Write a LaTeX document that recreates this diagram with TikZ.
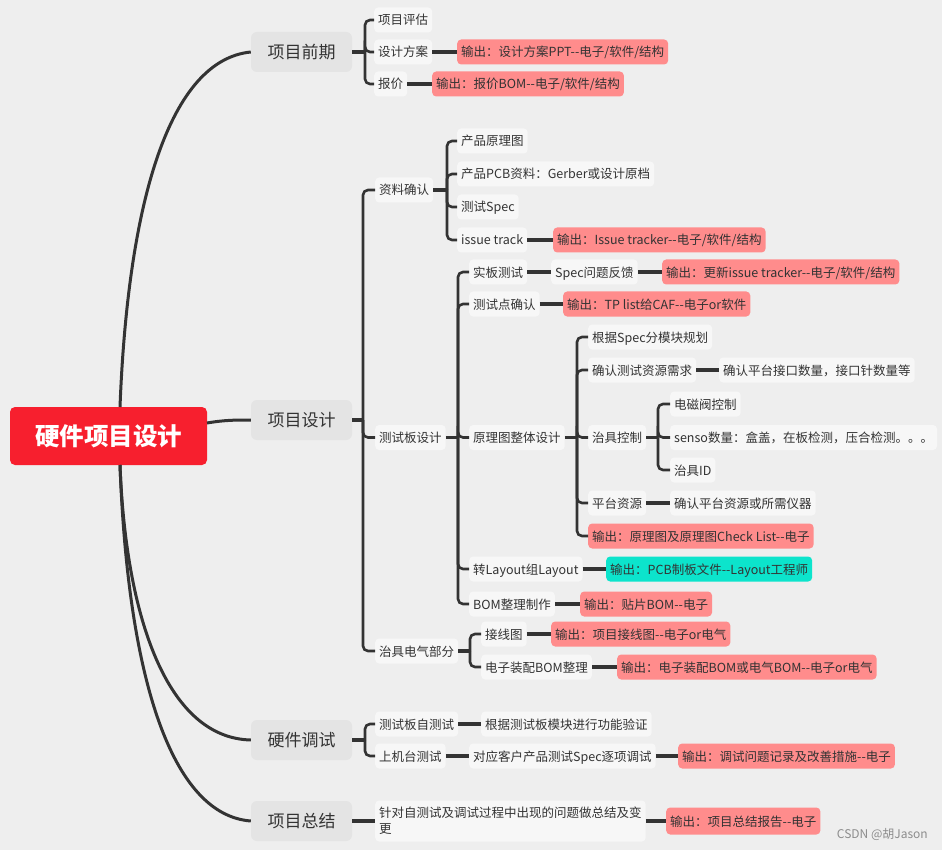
\documentclass[tikz,border=0pt]{standalone}
\usepackage{fontspec}
\setmainfont{Noto Sans CJK SC}
\usetikzlibrary{calc}
\newcommand\dd{-\kern0pt-}
\definecolor{bgc}{HTML}{EEEEEE}
\definecolor{rootred}{HTML}{F71F2E}
\definecolor{lonegray}{HTML}{E4E4E4}
\definecolor{subw}{HTML}{F7F7F7}
\definecolor{outred}{HTML}{FF8C8C}
\definecolor{outteal}{HTML}{0CE4CC}
\definecolor{lnc}{HTML}{333333}
\definecolor{txt}{HTML}{333333}
\begin{document}
\begin{tikzpicture}[x=1pt,y=-1pt,
  rootbox/.style={fill=rootred,text=white,rounded corners=5pt,minimum width=197pt,minimum height=58pt,inner sep=0pt,font=\fontsize{24.5}{28}\selectfont\bfseries},
  lone/.style={fill=lonegray,text=txt,rounded corners=6pt,minimum width=101pt,minimum height=40pt,inner sep=0pt,font=\fontsize{17}{20}\selectfont},
  sub/.style={fill=subw,text=txt,rounded corners=4pt,anchor=west,minimum height=25pt,inner xsep=4pt,inner ysep=0pt,text height=11.5pt,text depth=1.5pt,font=\fontsize{12.5}{15}\selectfont},
  outr/.style={sub,fill=outred},
  outt/.style={sub,fill=outteal},
  curve/.style={draw=lnc,line width=3pt},
  br/.style={draw=lnc,line width=2.6pt,rounded corners=5pt},
  ln/.style={draw=lnc,line width=3.2pt}
]
\fill[bgc] (0,0) rectangle (942,850);
\useasboundingbox (0,0) rectangle (942,850);

% root and level 1
\node[rootbox] (root) at (108.5,436) {硬件项目设计};
\node[lone] (A) at (301.5,52) {项目前期};
\node[lone] (B) at (301.5,420) {项目设计};
\node[lone] (C) at (301.5,740) {硬件调试};
\node[lone] (D) at (301.5,821) {项目总结};

\coordinate (rt) at (120,407);
\coordinate (rb) at (120,465);
\coordinate (rr) at (207,423);
\draw[curve] (rt) .. controls (128,200) and (170,60) .. (A.west);
\draw[curve] (rr) .. controls (225,420) and (235,420) .. (B.west);
\draw[curve] (rb) .. controls (126,620) and (168,738) .. (C.west);
\draw[curve] (rb) .. controls (128,680) and (172,815) .. (D.west);

% 项目前期
\node[sub] (A1) at (374,20) {项目评估};
\node[sub] (A2) at (374,52) {设计方案};
\node[sub] (A3) at (374,84) {报价};
\node[outr] (A2o) at (457,52) {输出：设计方案PPT\dd 电子/软件/结构};
\node[outr] (A3o) at (432,84) {输出：报价BOM\dd 电子/软件/结构};
\coordinate (kA) at (365,0);
\draw[ln] (A.east) -- (A.east -| kA);
\foreach \c in {A1,A2,A3} \draw[br] (A.east -| kA) |- (\c.west);
\draw[ln] (A2.east) -- (A2o.west);
\draw[ln] (A3.east) -- (A3o.west);

% 项目设计
\node[sub] (B1) at (375,190) {资料确认};
\node[sub] (B2) at (375,437.5) {测试板设计};
\node[sub] (B3) at (375,651) {治具电气部分};
\coordinate (kB) at (363,0);
\draw[ln] (B.east) -- (B.east -| kB);
\foreach \c in {B1,B2,B3} \draw[br] (B.east -| kB) |- (\c.west);

% 资料确认
\node[sub] (B11) at (457,141) {产品原理图};
\node[sub] (B12) at (457,174) {产品PCB资料：Gerber或设计原档};
\node[sub] (B13) at (457,207) {测试Spec};
\node[sub] (B14) at (457,240) {issue track};
\node[outr] (B14o) at (553,240) {输出：Issue tracker\dd 电子/软件/结构};
\coordinate (kB1) at (447,0);
\draw[ln] (B1.east) -- (B1.east -| kB1);
\foreach \c in {B11,B12,B13,B14} \draw[br] (B1.east -| kB1) |- (\c.west);
\draw[ln] (B14.east) -- (B14o.west);

% 测试板设计
\node[sub] (B21) at (469,272) {实板测试};
\node[sub] (B21a) at (551,272) {Spec问题反馈};
\node[outr] (B21o) at (662,272) {输出：更新issue tracker\dd 电子/软件/结构};
\node[sub] (B22) at (469,304) {测试点确认};
\node[outr] (B22o) at (563,304) {输出：TP list给CAF\dd 电子or软件};
\node[sub] (B23) at (469,437.5) {原理图整体设计};
\node[sub] (B24) at (469,569) {转Layout组Layout};
\node[outt] (B24o) at (606,569) {输出：PCB制板文件\dd Layout工程师};
\node[sub] (B25) at (469,604) {BOM整理制作};
\node[outr] (B25o) at (580,604) {输出：贴片BOM\dd 电子};
\coordinate (kB2) at (458,0);
\draw[ln] (B2.east) -- (B2.east -| kB2);
\foreach \c in {B21,B22,B23,B24,B25} \draw[br] (B2.east -| kB2) |- (\c.west);
\draw[ln] (B21.east) -- (B21a.west);
\draw[ln] (B21a.east) -- (B21o.west);
\draw[ln] (B22.east) -- (B22o.west);
\draw[ln] (B24.east) -- (B24o.west);
\draw[ln] (B25.east) -- (B25o.west);

% 原理图整体设计
\node[sub] (B231) at (588,337) {根据Spec分模块规划};
\node[sub] (B232) at (588,370) {确认测试资源需求};
\node[sub] (B232a) at (719,370) {确认平台接口数量，接口针数量等};
\node[sub] (B233) at (588,437.5) {治具控制};
\node[sub] (B233a) at (670,404) {电磁阀控制};
\node[sub] (B233b) at (670,437.5) {senso数量：盒盖，在板检测，压合检测。。。};
\node[sub] (B233c) at (670,470) {治具ID};
\node[sub] (B234) at (588,503) {平台资源};
\node[sub] (B234a) at (670,503) {确认平台资源或所需仪器};
\node[outr] (B235) at (588,536) {输出：原理图及原理图Check List\dd 电子};
\coordinate (kB23) at (577,0);
\draw[ln] (B23.east) -- (B23.east -| kB23);
\foreach \c in {B231,B232,B233,B234,B235} \draw[br] (B23.east -| kB23) |- (\c.west);
\draw[ln] (B232.east) -- (B232a.west);
\draw[ln] (B234.east) -- (B234a.west);
\coordinate (kB233) at (658,0);
\draw[ln] (B233.east) -- (B233.east -| kB233);
\foreach \c in {B233a,B233b,B233c} \draw[br] (B233.east -| kB233) |- (\c.west);

% 治具电气部分
\node[sub] (B31) at (481,634) {接线图};
\node[outr] (B31o) at (551,634) {输出：项目接线图\dd 电子or电气};
\node[sub] (B32) at (481,667) {电子装配BOM整理};
\node[outr] (B32o) at (617,667) {输出：电子装配BOM或电气BOM\dd 电子or电气};
\coordinate (kB3) at (470,0);
\draw[ln] (B3.east) -- (B3.east -| kB3);
\foreach \c in {B31,B32} \draw[br] (B3.east -| kB3) |- (\c.west);
\draw[ln] (B31.east) -- (B31o.west);
\draw[ln] (B32.east) -- (B32o.west);

% 硬件调试
\node[sub] (C1) at (375,724) {测试板自测试};
\node[sub] (C1a) at (481,724) {根据测试板模块进行功能验证};
\node[sub] (C2) at (375,756) {上机台测试};
\node[sub] (C2a) at (469,756) {对应客户产品测试Spec逐项调试};
\node[outr] (C2o) at (678,756) {输出：调试问题记录及改善措施\dd 电子};
\coordinate (kC) at (365,0);
\draw[ln] (C.east) -- (C.east -| kC);
\foreach \c in {C1,C2} \draw[br] (C.east -| kC) |- (\c.west);
\draw[ln] (C1.east) -- (C1a.west);
\draw[ln] (C2.east) -- (C2a.west);
\draw[ln] (C2a.east) -- (C2o.west);

% 项目总结
\node[sub,minimum height=41pt,text height=,text depth=,align=left,font=\fontsize{12.5}{16}\selectfont] (D1) at (375,821) {针对自测试及调试过程中出现的问题做总结及变\\更};
\node[outr,minimum height=27pt] (D1o) at (666,821) {输出：项目总结报告\dd 电子};
\draw[ln] (D.east) -- (D1.west);
\draw[ln] (D1.east) -- (D1o.west);

% watermark
\node[anchor=east,text=black!45,font=\fontsize{12}{14}\selectfont,inner sep=0pt] (wm) at (928,834) {CSDN @胡Jason};
\end{tikzpicture}
\end{document}
